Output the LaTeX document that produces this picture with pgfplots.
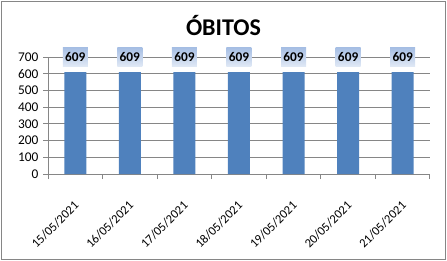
\documentclass[border=0pt]{standalone}
\usepackage{pgfplots}
\pgfplotsset{compat=1.18}
\usepackage{fontspec}
\setmainfont{Carlito}
\definecolor{axgray}{HTML}{868686}
\definecolor{barblue}{HTML}{4F81BD}
\definecolor{lbtop}{HTML}{A7BFE4}
\definecolor{lbbot}{HTML}{E2EAF6}
\begin{document}
\begin{tikzpicture}
\useasboundingbox (0pt,0pt) rectangle (335.25pt,-195.75pt);
\draw[axgray, line width=0.75pt] (1.1pt,-1.1pt) rectangle (334.15pt,-194.65pt);
\node[font=\fontsize{18}{21}\selectfont\bfseries] at (167.6pt,-19pt) {ÓBITOS};
\begin{axis}[
 at={(36pt,-130.5pt)}, anchor=south west,
 scale only axis, width=286.5pt, height=87.75pt,
 xmin=-0.5, xmax=6.5, ymin=0, ymax=700,
 ytick={0,100,...,700},
 axis x line*=bottom, axis y line*=left,
 axis line style={draw=axgray, line width=0.75pt, -},
 ymajorgrids, grid style={draw=axgray, line width=0.75pt},
 xtick={0,...,6},
 xticklabels={15/05/2021,16/05/2021,17/05/2021,18/05/2021,19/05/2021,20/05/2021,21/05/2021},
 minor xtick={-0.5,0.5,...,6.5},
 tick align=outside,
 major tick length=3.75pt, minor tick length=3.75pt,
 x tick style={draw=axgray, line width=0.75pt},
 major x tick style={draw=none},
 minor x tick style={draw=axgray, line width=0.75pt},
 y tick style={draw=axgray, line width=0.75pt},
 x tick label style={yshift=-15.5pt, xshift=-1.5pt, rotate=45, anchor=north east, font=\fontsize{9.4}{12}\selectfont, inner sep=0pt},
 y tick label style={font=\fontsize{10}{12}\selectfont},
 /pgf/number format/assume math mode=true,
 ybar, bar width=16.5pt,
 clip=false,
 nodes near coords,
 every node near coord/.append style={anchor=south, yshift=3.75pt, font=\fontsize{10}{12}\selectfont\bfseries,
   top color=lbtop, bottom color=lbbot, inner sep=0pt, minimum width=18.75pt, minimum height=14.25pt},
]
\addplot[fill=barblue, draw=none] coordinates {(0,609) (1,609) (2,609) (3,609) (4,609) (5,609) (6,609)};
\end{axis}
\end{tikzpicture}
\end{document}
